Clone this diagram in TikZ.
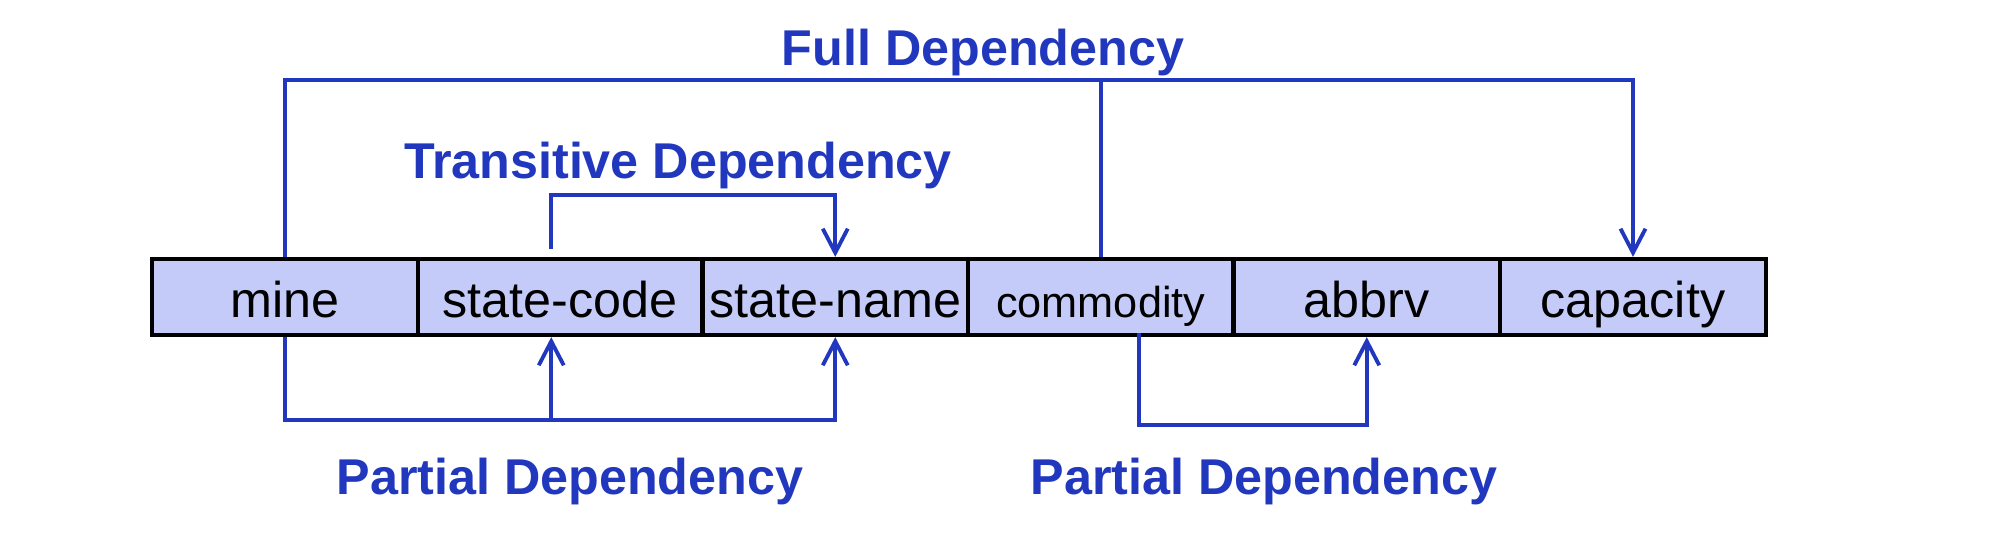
\documentclass[tikz,border=0pt]{standalone}
\usepackage{fontspec}
\setmainfont{Liberation Sans}
\usetikzlibrary{arrows.meta}
\definecolor{depblue}{RGB}{33,56,190}
\definecolor{cellblue}{RGB}{197,203,248}
\begin{document}
\begin{tikzpicture}[x=0.01cm,y=-0.01cm,
	cell/.style={draw=black,line width=1.2pt,fill=cellblue,minimum height=0.76cm,inner sep=0pt,
		text height=0.45cm,text depth=0.05cm,font=\fontsize{14.3}{17}\selectfont},
	deplabel/.style={text=depblue,anchor=base,inner sep=0pt,font=\fontsize{14.3}{17}\selectfont\bfseries},
	dep/.style={draw=depblue,line width=1.1pt},
	deparrow/.style={dep,-{Straight Barb[length=0.24cm,width=0.25cm]}}]
		\useasboundingbox (0,0) rectangle (1992,558);
		%
		\node[cell,minimum width=2.66cm] (mm) at (285,297) {mine};
		\node[cell,minimum width=2.845cm] (sc) at (560.25,297) {state-code};
		\node[cell,minimum width=2.655cm] (sn) at (835.25,297) {state-name};
		\node[cell,minimum width=2.655cm,font=\fontsize{12.3}{15}\selectfont] (cc) at (1100.75,297) {commodity};
		\node[cell,minimum width=2.665cm] (ab) at (1366.75,297) {abbrv};
		\node[cell,minimum width=2.66cm] (cp) at (1633,297) {capacity};
		%
		\node[deplabel] (fd) at (983,66) {Full Dependency};
		\node[deplabel] (td) at (678,179) {Transitive Dependency};
		\node[deplabel] (pd1) at (570,494) {Partial Dependency};
		\node[deplabel] (pd2) at (1264,494) {Partial Dependency};
		%
		\coordinate (fbar) at (0,80);
		\coordinate (tbar) at (0,195);
		\coordinate (pbar1) at (0,420);
		\coordinate (pbar2) at (0,425);
		\coordinate (tsrc) at ([xshift=-0.09cm,yshift=0.08cm]sc.north);
		\coordinate (psrc) at ([xshift=-0.09cm]sc.south);
		\coordinate (csrc) at ([xshift=0.38cm,yshift=0.04cm]cc.south);
		%
		\draw[deparrow] (mm.north) -- (mm.north |- fbar) -| (cp.north);
		\draw[dep] (cc.north) -- (cc.north |- fbar);
		\draw[deparrow] (tsrc) -- (tsrc |- tbar) -| (sn.north);
		%
		\draw[deparrow] (mm.south) -- (mm.south |- pbar1) -| (sn.south);
		\draw[deparrow] (psrc |- pbar1) -- (psrc);
		\draw[deparrow] (csrc) -- (csrc |- pbar2) -| (ab.south);
\end{tikzpicture}
\end{document}
